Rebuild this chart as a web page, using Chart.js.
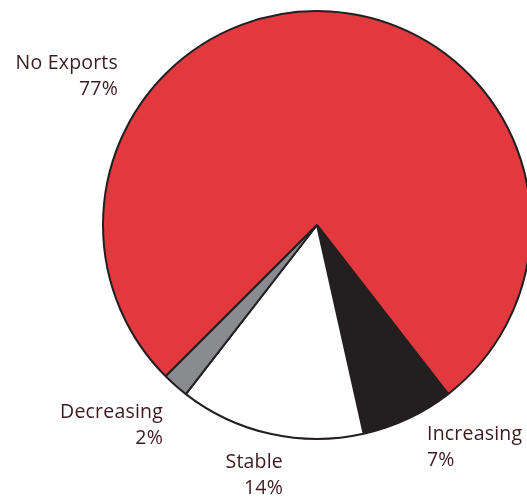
<!DOCTYPE html>
<html>
<head>
<meta charset="utf-8">
<script src="https://cdn.jsdelivr.net/npm/chart.js@4"></script>
<style>
  html, body { margin: 0; padding: 0; background: #fff; }
  #wrap { width: 527px; height: 498px; position: relative; }
</style>
</head>
<body>
<div id="wrap"><canvas id="pieChart"></canvas></div>
<script>
const categories = ["No Exports", "Increasing", "Stable", "Decreasing"];
const shares = [77, 7, 14, 2];
const sliceColors = ["#e2393f", "#231f20", "#ffffff", "#898b8e"];

// where each label sits and how it is aligned
const labelSpots = {
  "No Exports": { x: 118, y: 69, align: "right" },
  "Increasing": { x: 427, y: 440, align: "left" },
  "Stable":     { x: 283, y: 468, align: "right" },
  "Decreasing": { x: 163, y: 418, align: "right" }
};

const sliceLabels = {
  id: "sliceLabels",
  afterDraw(chart) {
    const ctx = chart.ctx;
    const data = chart.data.datasets[0].data;
    ctx.save();
    ctx.fillStyle = "#3b1b1f";
    ctx.font = "19.5px 'Open Sans'";
    ctx.letterSpacing = "0.2px";
    ctx.textBaseline = "alphabetic";
    chart.data.labels.forEach((name, i) => {
      const s = labelSpots[name];
      ctx.textAlign = s.align;
      ctx.fillText(name, s.x, s.y);
      ctx.fillText(data[i] + "%", s.x, s.y + 26);
    });
    ctx.restore();
  }
};

new Chart(document.getElementById("pieChart"), {
  type: "pie",
  data: {
    labels: categories,
    datasets: [{
      data: shares,
      backgroundColor: sliceColors,
      borderColor: "#231f20",
      borderWidth: 2,
      clip: false
    }]
  },
  options: {
    responsive: true,
    maintainAspectRatio: false,
    animation: false,
    rotation: 225,
    radius: 214,
    layout: { padding: { left: 107, right: 0, top: 0, bottom: 48 } },
    plugins: {
      legend: { display: false },
      tooltip: { enabled: false }
    }
  },
  plugins: [sliceLabels]
});
</script>
</body>
</html>
